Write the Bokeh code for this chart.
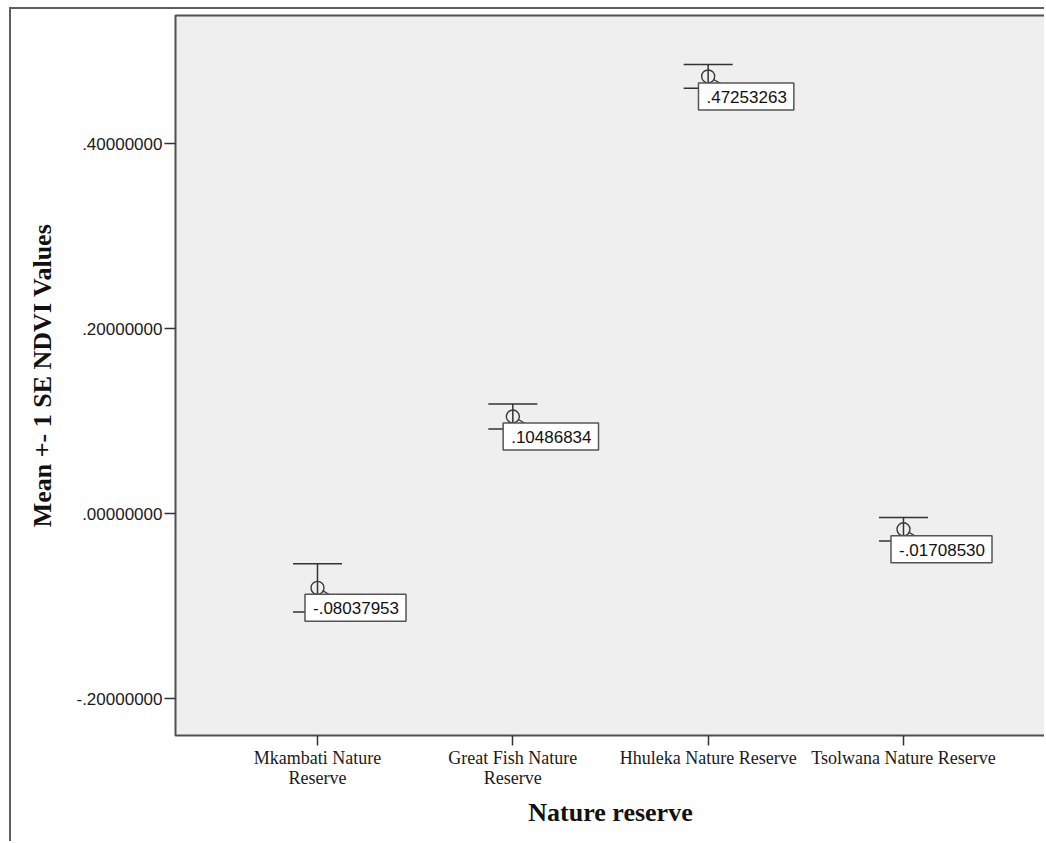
from bokeh.plotting import figure
from bokeh.models import (ColumnDataSource, FactorRange, Range1d, FixedTicker,
                          CustomJSTickFormatter, Whisker, TeeHead)
from bokeh.core.properties import value
from bokeh.transform import dodge
from bokeh.embed import file_html
from bokeh.resources import INLINE

# Mean NDVI per reserve and its standard error
reserves = ["Mkambati Nature\nReserve", "Great Fish Nature\nReserve",
            "Hhuleka Nature Reserve", "Tsolwana Nature Reserve"]
means = [-0.08037953, 0.10486834, 0.47253263, -0.01708530]
std_err = [0.0260, 0.0135, 0.0128, 0.0127]
y_ticks = [-0.2, 0.0, 0.2, 0.4]


def spss_number(v):
    s = f"{v:.8f}"
    return s.replace("-0.", "-.") if s.startswith("-0.") else s.replace("0.", ".", 1)


src = ColumnDataSource(dict(
    reserve=reserves,
    mean=means,
    upper=[m + s for m, s in zip(means, std_err)],
    lower=[m - s for m, s in zip(means, std_err)],
    label=[spss_number(m) for m in means],
))

p = figure(width=1035, height=834, output_backend="svg", toolbar_location=None,
           x_range=FactorRange(factors=reserves, range_padding=0.227,
                               range_padding_units="absolute"),
           y_range=Range1d(-0.24, 0.5384),
           min_border_left=164, min_border_right=1,
           min_border_top=6, min_border_bottom=108)

# outer frame of the chart: left and top rules, offset from the page corner
p.margin = (7, 0, 0, 9)
p.styles = {"border-left": "2px solid #5e5e5e", "border-top": "2px solid #5e5e5e"}

p.background_fill_color = "#efefef"
p.border_fill_color = "white"
p.outline_line_color = "#4f4f4f"
p.outline_line_width = 2
p.grid.visible = False

# Axes
for ax in (p.xaxis, p.yaxis):
    ax.axis_line_color = None
    ax.major_tick_in = 0
    ax.major_tick_line_color = "#333333"
    ax.major_tick_line_width = 1.5
    ax.minor_tick_line_color = None
    ax.major_label_text_color = "#1a1a1a"
    ax.axis_label_text_color = "#111111"
    ax.axis_label_text_font_style = "bold"
    ax.axis_label_text_font = "Liberation Serif"
    ax.axis_label_text_font_size = "26px"

p.yaxis.ticker = FixedTicker(ticks=y_ticks)
p.yaxis.formatter = CustomJSTickFormatter(
    code="var s = tick.toFixed(8); return s.replace(/^(-?)0\\./, '$1.');")
p.yaxis.major_tick_out = 11
p.yaxis.major_label_standoff = 2
p.yaxis.major_label_text_font = "Liberation Sans"
p.yaxis.major_label_text_font_size = "17px"
p.yaxis.axis_label = "Mean +- 1 SE NDVI Values"
p.yaxis.axis_label_standoff = 16

p.xaxis.major_tick_out = 10
p.xaxis.major_label_standoff = 2
p.xaxis.major_label_text_font = "Liberation Serif"
p.xaxis.major_label_text_font_size = "18px"
p.xaxis.major_label_text_line_height = 1.0
p.xaxis.axis_label = "Nature reserve"
p.xaxis.axis_label_standoff = 7

# Error bars (mean +- 1 SE)
p.add_layout(Whisker(source=src, base="reserve", upper="upper", lower="lower",
                     line_color="#333333", line_width=1.5,
                     upper_head=TeeHead(size=49, line_color="#333333", line_width=1.5),
                     lower_head=TeeHead(size=49, line_color="#333333", line_width=1.5)))

# Mean markers
p.scatter("reserve", "mean", source=src, marker="circle", size=13,
          fill_color=None, line_color="#3a3a3a", line_width=1.4)

# Short leader from marker to its value label
p.segment(x0=dodge("reserve", 0.026, range=p.x_range), y0=dodge("mean", -0.003),
          x1=dodge("reserve", 0.066, range=p.x_range), y1=dodge("mean", -0.008),
          source=src, line_color="#3a3a3a", line_width=1.3)

# Value labels in boxes
p.text(x="reserve", y="mean", text="label", source=src,
       x_offset=38, y_offset=20, text_align="center", text_baseline="middle",
       text_font=value("Liberation Sans"), text_font_size="17px",
       text_color="#111111", background_fill_color="white",
       border_line_color="#555555", border_line_width=1.5, padding=[8, 7, 8, 7])

open("out.html", "w").write(file_html(p, INLINE))
